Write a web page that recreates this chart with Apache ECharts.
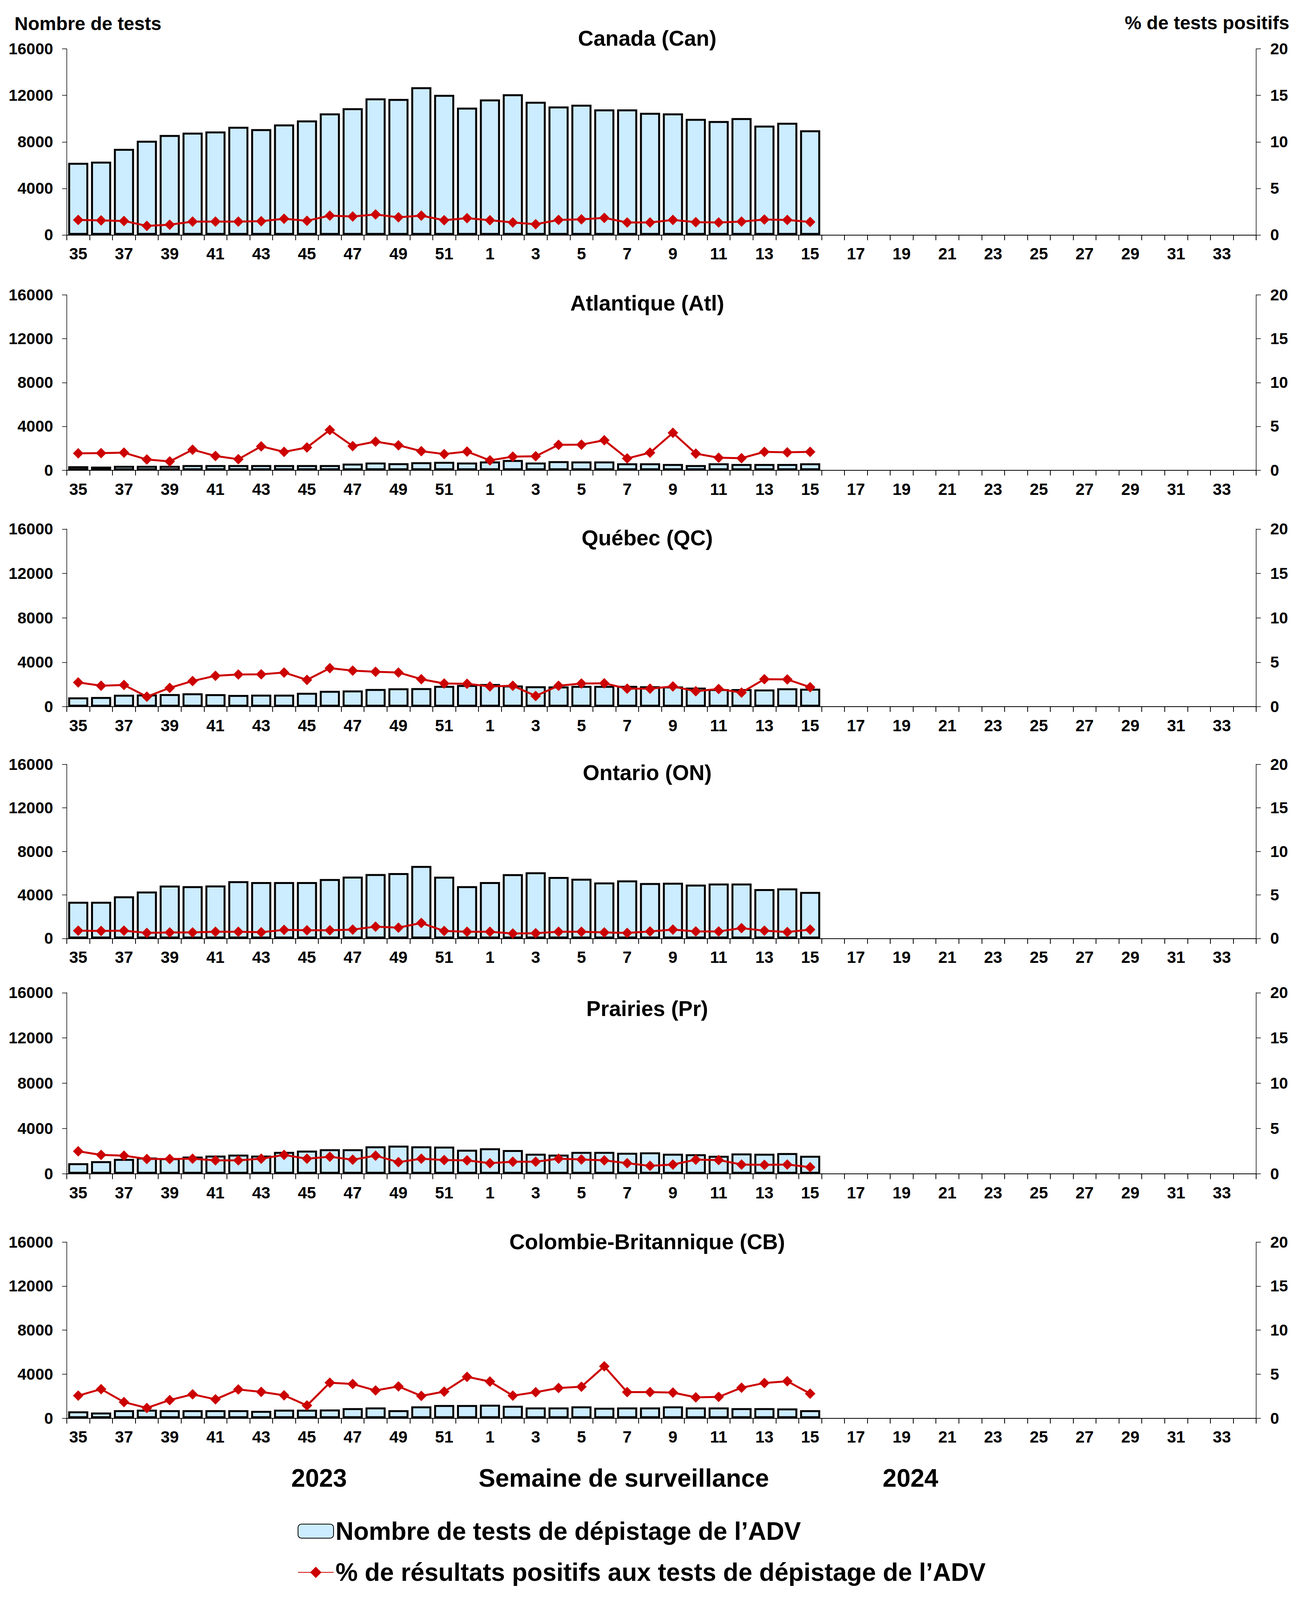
<!DOCTYPE html>
<html>
<head>
<meta charset="utf-8">
<script src="https://cdn.jsdelivr.net/npm/echarts@6/dist/echarts.min.js"></script>
<style>
html,body{margin:0;padding:0;background:#fff;overflow:hidden;}
#chart{position:absolute;left:0;top:0;width:100vw;height:100vh;}
</style>
</head>
<body>
<div id="chart"></div>
<script>
// Categories: surveillance weeks 35 (2023) .. 34 (2024)
const weeks = ['35','36','37','38','39','40','41','42','43','44','45','46','47','48','49','50','51','52',
  '1','2','3','4','5','6','7','8','9','10','11','12','13','14','15','16','17','18','19','20','21','22','23','24',
  '25','26','27','28','29','30','31','32','33','34'];

const leftTicks = [0, 4000, 8000, 12000, 16000];
const rightTicks = [0, 5, 10, 15, 20];

const panelTitles = ['Canada (Can)', 'Atlantique (Atl)', 'Québec (QC)', 'Ontario (ON)', 'Prairies (Pr)', 'Colombie-Britannique (CB)'];

const canTests = [6200,6300,7400,8100,8600,8800,8900,9300,9100,9500,9850,10450,10900,11750,11700,12700,12050,10950,
  11650,12100,11450,11050,11200,10800,10800,10500,10450,9980,9800,10050,9400,9650,9000];
const canPos = [1.61,1.56,1.5,0.97,1.1,1.43,1.43,1.43,1.47,1.74,1.52,2.07,1.98,2.2,1.89,2.07,1.58,1.8,
  1.58,1.34,1.15,1.61,1.67,1.83,1.34,1.34,1.61,1.37,1.34,1.43,1.65,1.61,1.39];

const atlTests = [360,330,400,400,400,470,470,470,470,470,470,470,600,700,640,730,760,700,
  800,930,700,830,800,800,630,630,570,470,630,570,570,570,630];
const atlPos = [1.92,1.95,2.0,1.22,1.0,2.34,1.62,1.25,2.72,2.09,2.59,4.59,2.75,3.26,2.84,2.17,1.84,2.12,
  1.12,1.55,1.59,2.89,2.92,3.42,1.34,2.0,4.26,1.89,1.42,1.37,2.09,2.04,2.09];

const qcTests = [830,870,1070,1100,1130,1200,1120,1050,1080,1080,1250,1420,1460,1590,1650,1670,1870,1950,
  2040,1910,1840,1820,1870,1870,1870,1840,1820,1710,1580,1580,1550,1650,1620];
const qcPos = [2.72,2.35,2.44,1.12,2.11,2.88,3.47,3.62,3.64,3.84,3.01,4.33,4.05,3.92,3.84,3.09,2.6,2.57,
  2.27,2.35,1.2,2.35,2.6,2.63,2.02,2.02,2.27,1.73,1.99,1.58,3.09,3.06,2.19];

const onTests = [3370,3370,3870,4310,4860,4810,4870,5260,5180,5180,5180,5460,5690,5920,6010,6660,5680,4810,
  5180,5910,6080,5650,5490,5150,5340,5090,5120,4950,5050,5050,4540,4600,4280];
const onPos = [0.89,0.86,0.89,0.64,0.69,0.69,0.77,0.77,0.72,0.99,0.94,0.94,1.02,1.36,1.24,1.78,0.86,0.77,
  0.77,0.57,0.6,0.77,0.77,0.69,0.64,0.81,1.02,0.81,0.81,1.19,0.89,0.74,1.02];

const prTests = [930,1110,1310,1430,1370,1520,1610,1690,1610,1930,2050,2170,2170,2430,2490,2430,2400,2120,
  2250,2100,1770,1690,1930,1930,1860,1890,1770,1730,1590,1800,1770,1830,1590];
const prPos = [2.48,2.08,2.0,1.63,1.63,1.66,1.48,1.48,1.66,2.08,1.66,1.88,1.55,2.0,1.28,1.66,1.51,1.48,
  1.17,1.33,1.33,1.66,1.58,1.48,1.17,0.87,1.02,1.55,1.51,1.02,0.98,1.02,0.72];

const cbTests = [620,520,730,770,730,730,730,730,670,770,770,790,920,980,730,1080,1200,1200,
  1230,1130,980,980,1080,950,980,980,1080,980,980,920,920,890,730];
const cbPos = [2.56,3.3,1.83,1.16,2.06,2.71,2.14,3.26,2.99,2.6,1.44,4.03,3.88,3.15,3.61,2.53,3.02,4.7,
  4.16,2.56,2.95,3.43,3.58,5.89,2.96,2.96,2.91,2.37,2.42,3.46,4.0,4.2,2.79];

const testsSeries = [canTests, atlTests, qcTests, onTests, prTests, cbTests];
const posSeries = [canPos, atlPos, qcPos, onPos, prPos, cbPos];

const barName = 'Nombre de tests de dépistage de l\u2019ADV';
const lineName = '% de résultats positifs aux tests de dépistage de l\u2019ADV';

// layout, designed for a 3318 x 4189 page and scaled to the actual viewport
const W = window.innerWidth || 3318;
const H = window.innerHeight || 4189;
const sx = W / 3318, sy = H / 4189, sf = sx;
const X = v => v * sx, Y = v => v * sy, F = v => Math.round(v * sf * 10) / 10;

const gridTops = [128, 772, 1385, 2001, 2599, 3252];
const gridHeights = [487, 459, 465, 456, 474, 461];
const titleY = [100, 794, 1408, 2023, 2641, 3251];
const FONT = '"Liberation Sans", Arial, Helvetica, sans-serif';

const grids = [], xAxes = [], yAxes = [], series = [], graphics = [];
for (let i = 0; i < 6; i++) {
  grids.push({left: X(171), right: X(102), top: Y(gridTops[i]), height: Y(gridHeights[i]), containLabel: false});
  xAxes.push({
    type: 'category', gridIndex: i, data: weeks, boundaryGap: true,
    axisLine: {show: true, onZero: false, lineStyle: {color: '#000', width: 2}},
    axisTick: {show: true, interval: 0, length: Y(14), lineStyle: {color: '#000', width: 2}},
    axisLabel: {interval: 1, color: '#000', fontSize: F(42), fontWeight: 'bold', fontFamily: FONT, margin: Y(28)},
    splitLine: {show: false}
  });
  yAxes.push({
    type: 'value', gridIndex: i, min: leftTicks[0], max: leftTicks[leftTicks.length - 1], interval: 4000, position: 'left',
    axisLine: {show: true, lineStyle: {color: '#000', width: 1.5}},
    axisTick: {show: true, length: X(12), lineStyle: {color: '#000', width: 1.5}},
    axisLabel: {color: '#000', fontSize: F(41), fontWeight: 'bold', fontFamily: FONT, margin: X(35),
      formatter: function (v) { return String(v); }},
    splitLine: {show: false}
  });
  yAxes.push({
    type: 'value', gridIndex: i, min: rightTicks[0], max: rightTicks[rightTicks.length - 1], interval: 5, position: 'right',
    axisLine: {show: true, lineStyle: {color: '#000', width: 1.5}},
    axisTick: {show: true, length: X(12), lineStyle: {color: '#000', width: 1.5}},
    axisLabel: {color: '#000', fontSize: F(41), fontWeight: 'bold', fontFamily: FONT, margin: X(36),
      formatter: function (v) { return String(v); }},
    splitLine: {show: false}
  });
  series.push({
    name: barName, type: 'bar', xAxisIndex: i, yAxisIndex: 2 * i,
    data: testsSeries[i], barCategoryGap: '12%',
    itemStyle: {color: '#CCECFF', borderColor: '#000', borderWidth: 5},
    emphasis: {disabled: true}, z: 2
  });
  series.push({
    name: lineName, type: 'line', xAxisIndex: i, yAxisIndex: 2 * i + 1,
    data: posSeries[i], symbol: 'diamond', symbolSize: F(27),
    lineStyle: {color: '#CC0000', width: 5},
    itemStyle: {color: '#CC0000'},
    emphasis: {disabled: true}, z: 3
  });
  graphics.push({
    type: 'text', x: X(1657), y: Y(titleY[i]),
    style: {text: panelTitles[i], fill: '#000', font: 'bold ' + F(55) + 'px ' + FONT, align: 'center', verticalAlign: 'middle'}
  });
}

graphics.push({type: 'text', x: X(37), y: Y(62),
  style: {text: 'Nombre de tests', fill: '#000', font: 'bold ' + F(48) + 'px ' + FONT, align: 'left', verticalAlign: 'middle'}});
graphics.push({type: 'text', x: X(3301), y: Y(60),
  style: {text: '% de tests positifs', fill: '#000', font: 'bold ' + F(48) + 'px ' + FONT, align: 'right', verticalAlign: 'middle'}});
graphics.push({type: 'text', x: X(817), y: Y(3870),
  style: {text: '2023', fill: '#000', font: 'bold ' + F(64) + 'px ' + FONT, align: 'center', verticalAlign: 'middle'}});
graphics.push({type: 'text', x: X(1597), y: Y(3870),
  style: {text: 'Semaine de surveillance', fill: '#000', font: 'bold ' + F(64) + 'px ' + FONT, align: 'center', verticalAlign: 'middle'}});
graphics.push({type: 'text', x: X(2331), y: Y(3870),
  style: {text: '2024', fill: '#000', font: 'bold ' + F(64) + 'px ' + FONT, align: 'center', verticalAlign: 'middle'}});

const legendText = {color: '#000', fontSize: F(64), fontWeight: 'bold', fontFamily: FONT};
const chart = echarts.init(document.getElementById('chart'), null, {renderer: 'svg', width: W, height: H});
chart.setOption({
  backgroundColor: '#fff',
  animation: false,
  grid: grids,
  xAxis: xAxes,
  yAxis: yAxes,
  series: series,
  legend: [
    {data: [barName], orient: 'horizontal', left: X(762), top: Y(3976), padding: 0,
      itemWidth: X(91), itemHeight: Y(37), textStyle: legendText, selectedMode: false},
    {data: [lineName], orient: 'horizontal', left: X(762), top: Y(4084), padding: 0,
      itemWidth: X(91), itemHeight: Y(37), textStyle: legendText, selectedMode: false}
  ],
  graphic: graphics
});
</script>
</body>
</html>
